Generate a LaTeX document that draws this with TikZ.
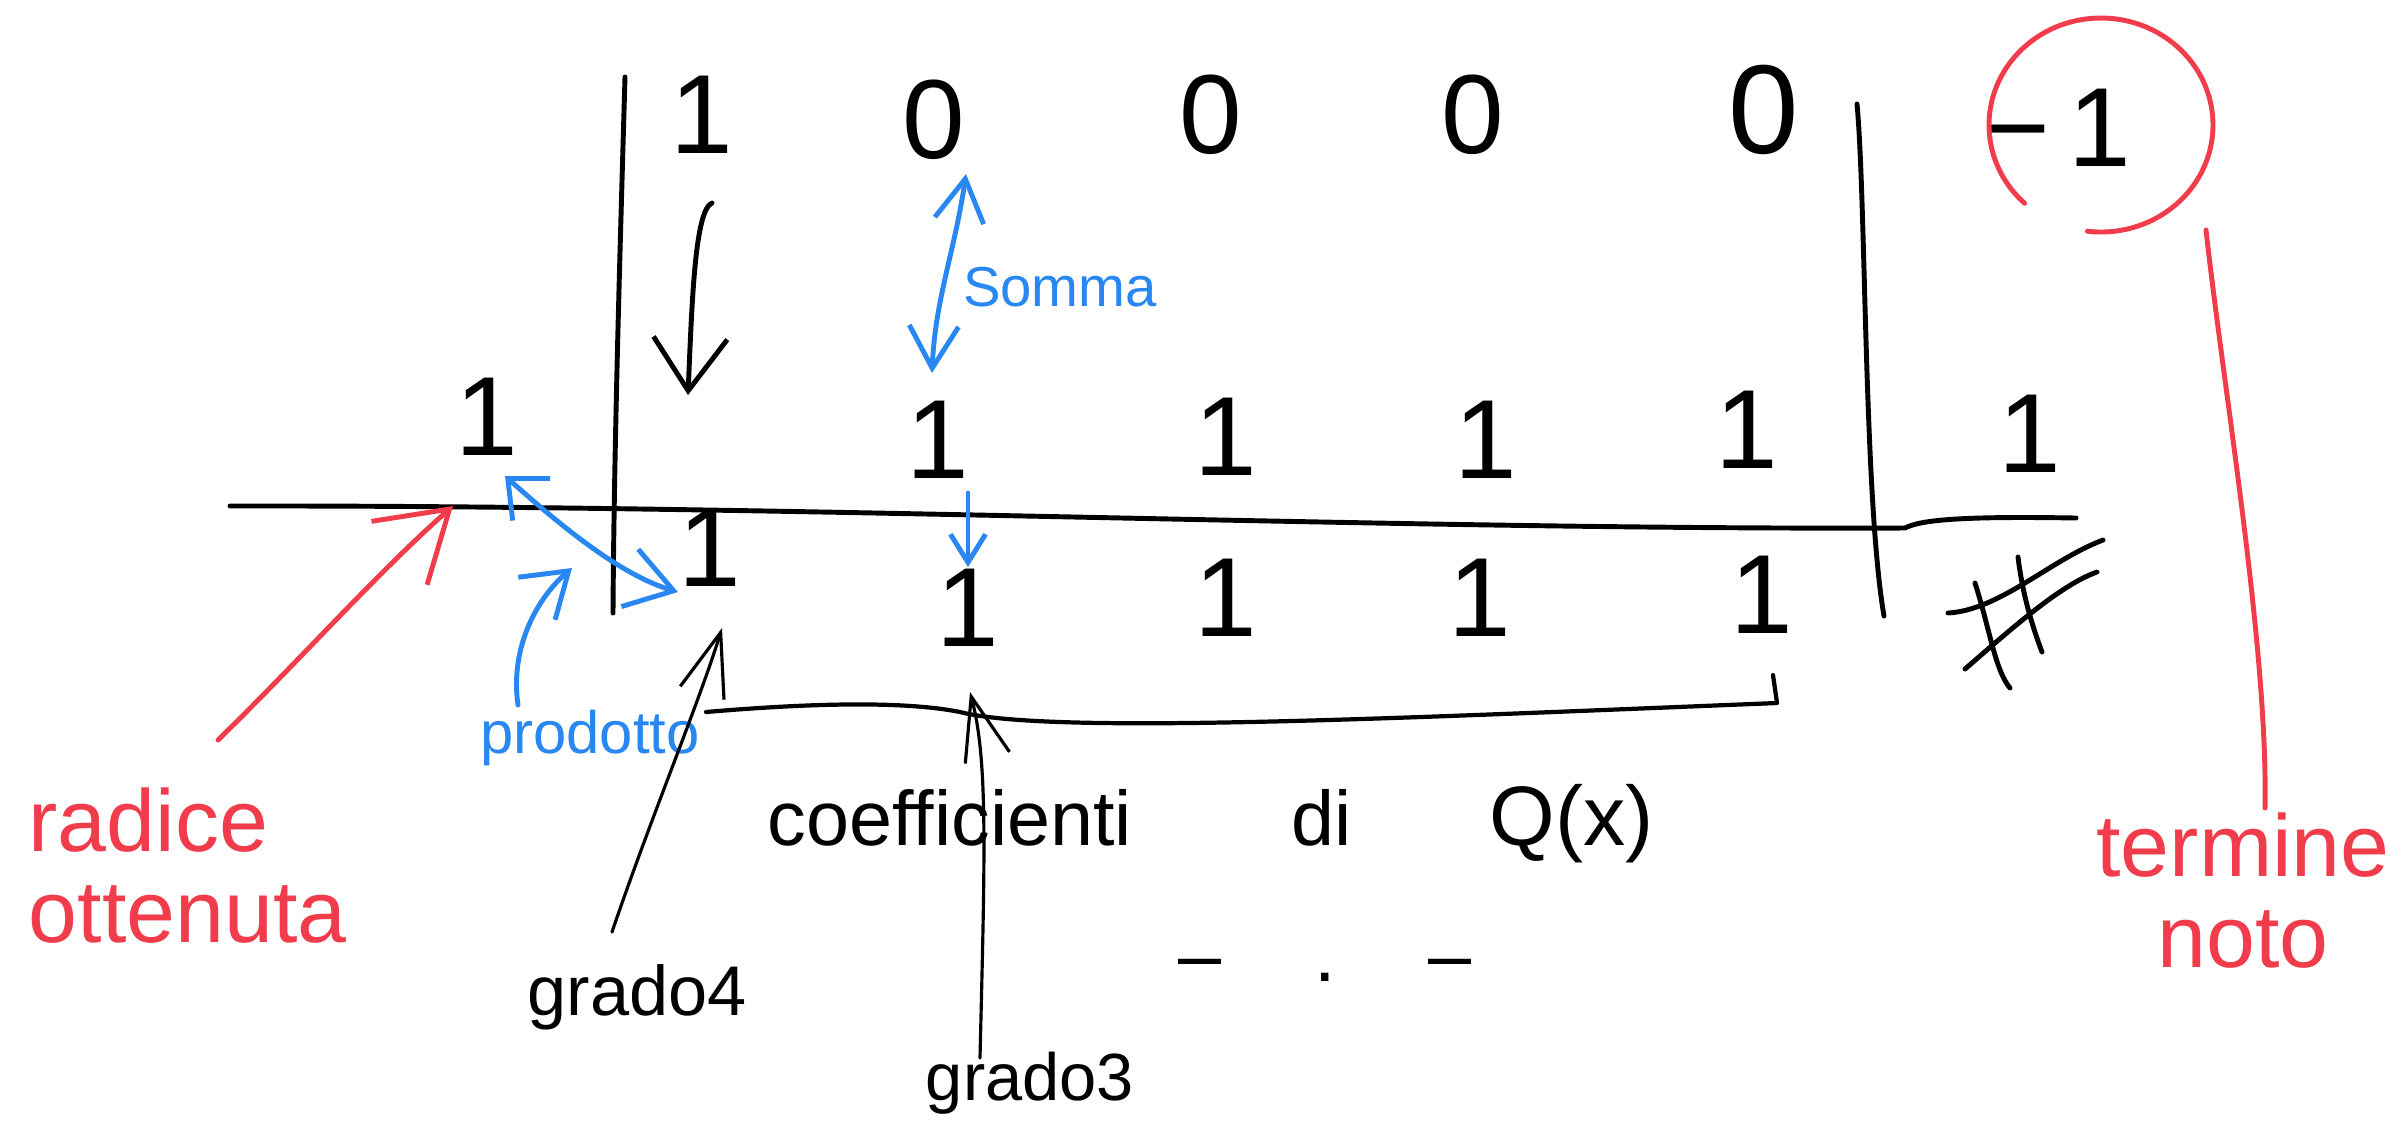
\documentclass[tikz,border=0pt]{standalone}
\usepackage{fontspec}
\setmainfont{Liberation Sans}
\usetikzlibrary{arrows.meta}
\definecolor{pred}{RGB}{240,60,75}
\definecolor{pblue}{RGB}{40,135,240}
\begin{document}
\begin{tikzpicture}[x=0.01cm,y=-0.01cm,
  num/.style={inner sep=0pt,font=\fontsize{32}{32}\selectfont},
  ink/.style={line width=1.4pt,line cap=round,line join=round},
  thinink/.style={line width=0.9pt,line cap=round,line join=round},
  redink/.style={ink,color=pred},
  blueink/.style={ink,color=pblue},
  redlab/.style={inner sep=0pt,text=pred,font=\fontsize{25}{26}\selectfont},
  bluelab/.style={inner sep=0pt,text=pblue},
  blacklab/.style={inner sep=0pt},
  bigV/.style={-{Straight Barb[length=15pt,width=21pt]}},
  redV/.style={-{Straight Barb[length=19pt,width=24pt]}},
  upV/.style={-{Straight Barb[length=18pt,width=13pt]}},
  midV/.style={{Straight Barb[length=12pt,width=14pt]}-{Straight Barb[length=12pt,width=14pt]}},
  smallV/.style={-{Straight Barb[length=8pt,width=10pt]}},
  prodV/.style={{Straight Barb[length=9pt,width=16pt]}-{Straight Barb[length=13pt,width=17pt]}}
]
\fill[white] (0,0) rectangle (2402,1138);
\useasboundingbox (0,0) rectangle (2402,1138);

% frame lines
\coordinate (vl1) at (625,77);   \coordinate (vl2) at (613,613);
\coordinate (vr1) at (1857,104); \coordinate (vr2) at (1884,616);
\coordinate (h1) at (230,506);   \coordinate (h2) at (1905,528); \coordinate (h3) at (2076,518);
\draw[ink] (vl1) .. controls (620,250) and (614,450) .. (vl2);
\draw[ink] (vr1) .. controls (1866,200) and (1864,500) .. (vr2);
\draw[ink] (h1) .. controls (800,505) and (1400,530) .. (h2) .. controls (1920,520) and (1960,516) .. (h3);

% top row
\node[num] (t1) at (702,115) {1};
\node[num] (t2) at (934,120) {0};
\node[num] (t3) at (1211,115) {0};
\node[num] (t4) at (1473,115) {0};
\node[num,font=\fontsize{36}{36}\selectfont] (t5) at (1764,110) {0};
\node[num] (t6) at (2058,128) {−\,1};

% middle row
\node[num] (r) at (487,417) {1};
\node[num] (m2) at (938,440) {1};
\node[num] (m3) at (1226,437) {1};
\node[num] (m4) at (1486,440) {1};
\node[num] (m5) at (1747,430) {1};
\node[num] (m6) at (2030,434) {1};

% bottom row
\node[num] (b1) at (710,548) {1};
\node[num] (b2) at (968,608) {1};
\node[num] (b3) at (1226,598) {1};
\node[num] (b4) at (1480,598) {1};
\node[num] (b5) at (1762,595) {1};

% remainder mark
\draw[ink] (1948,613) .. controls (2000,610) and (2050,560) .. (2103,540);
\draw[ink] (1965,669) .. controls (2010,630) and (2060,585) .. (2097,572);
\draw[ink] (1975,583) .. controls (1990,630) and (1995,670) .. (2010,688);
\draw[ink] (2018,557) .. controls (2022,590) and (2030,620) .. (2042,652);

% red circle and termine noto
\coordinate (circ) at (2101,125);
\draw[redink] (circ) ++(133:112 and 107) arc[start angle=133,end angle=457,x radius=112,y radius=107];
\node[redlab,align=center,anchor=north] (term) at (2243,812) {termine\\noto};
\coordinate (tn1) at (2206,230);
\coordinate (tn2) at (2265,808);
\draw[redink] (tn1) .. controls (2225,400) and (2268,650) .. (tn2);

% radice ottenuta
\node[redlab,align=left,anchor=north west] (rad) at (28,787) {radice\\ottenuta};
\coordinate (ra1) at (218,740);
\coordinate (ra2) at (453,506);
\draw[redink,redV] (ra1) .. controls (300,660) and (380,570) .. (ra2);

% black arrow down from first coefficient
\coordinate (a1s) at (712,203);
\coordinate (a1e) at (688,395);
\draw[ink,bigV] (a1s) .. controls (695,210) and (692,300) .. (a1e);

% Somma
\node[bluelab,font=\fontsize{16}{16}\selectfont] (somma) at (1060,287) {Somma};
\coordinate (s1) at (966,174);
\coordinate (s2) at (932,373);
\draw[blueink,midV] (s1) .. controls (955,250) and (935,300) .. (s2);
\coordinate (sm1) at (968,493);
\coordinate (sm2) at (968,567);
\draw[blueink,smallV] (sm1) -- (sm2);

% prodotto
\node[bluelab,font=\fontsize{17}{17}\selectfont] (prod) at (590,738) {prodotto};
\coordinate (p1) at (505,476);
\coordinate (p2) at (678,592);
\draw[blueink,prodV] (p1) .. controls (560,525) and (620,575) .. (p2);
\coordinate (q1) at (518,705);
\coordinate (q2) at (572,568);
\draw[blueink,-{Straight Barb[length=12pt,width=16pt]}] (q1) .. controls (510,650) and (535,600) .. (q2);

% coefficienti di Q(x)
\node[blacklab,font=\fontsize{22}{22}\selectfont,anchor=base] (coef) at (950,845) {coefficienti};
\node[blacklab,font=\fontsize{22}{22}\selectfont,anchor=base] (di) at (1322,845) {di};
\node[blacklab,font=\fontsize{24}{24}\selectfont,anchor=base] (qx) at (1572,845) {Q(x)};
\coordinate (br1) at (706,712);
\coordinate (br2) at (1777,703);
\coordinate (br3) at (1773,675);
\draw[ink,line width=1.2pt] (br1) .. controls (800,704) and (900,700) .. (960,712) .. controls (1050,735) and (1400,718) .. (br2) -- (br3);

% grado labels
\node[blacklab,font=\fontsize{20}{20}\selectfont,anchor=base] (g4) at (637,1015) {grado4};
\node[blacklab,font=\fontsize{19}{19}\selectfont,anchor=base] (g3) at (1030,1100) {grado3};
\coordinate (g4a) at (612,932);
\coordinate (g4b) at (722,628);
\draw[thinink,upV] (g4a) .. controls (650,820) and (700,700) .. (g4b);
\coordinate (g3a) at (980,1058);
\coordinate (g3b) at (970,692);
\draw[thinink,upV] (g3a) .. controls (985,850) and (988,760) .. (g3b);

% ellipsis
\node[blacklab,font=\fontsize{22}{22}\selectfont] (dots) at (1325,970) {–\hspace{1.2em}.\hspace{1.2em}–};
\end{tikzpicture}
\end{document}
